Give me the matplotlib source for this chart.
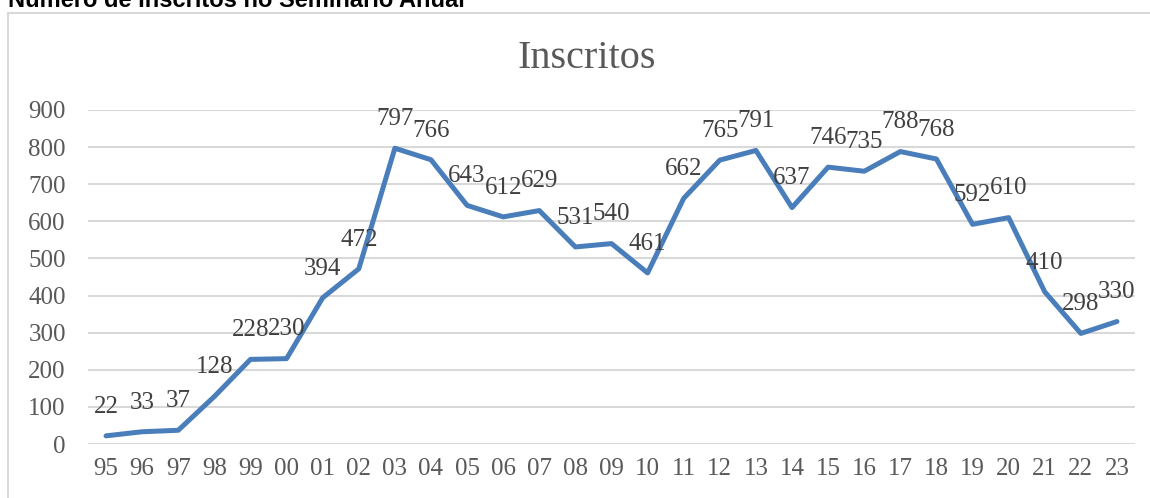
import matplotlib.pyplot as plt
from matplotlib.patches import Rectangle

years = ['95', '96', '97', '98', '99', '00', '01', '02', '03', '04', '05', '06', '07', '08', '09',
         '10', '11', '12', '13', '14', '15', '16', '17', '18', '19', '20', '21', '22', '23']
inscritos = [22, 33, 37, 128, 228, 230, 394, 472, 797, 766, 643, 612, 629, 531, 540,
             461, 662, 765, 791, 637, 746, 735, 788, 768, 592, 610, 410, 298, 330]
yticks = [0, 100, 200, 300, 400, 500, 600, 700, 800, 900]

W, H = 1150, 498
fig = plt.figure(figsize=(W / 100, H / 100), dpi=100)

# chart frame (cut off at right and bottom)
fig.patches.append(Rectangle((8 / W, -0.1), 1.1, 1 - 13 / H + 0.1, transform=fig.transFigure,
                             fill=False, edgecolor='#D9D9D9', linewidth=1.5))

# page heading, cut off at the top like the source
fig.text(8 / W, 1 - 7 / H, 'Número de Inscritos no Seminário Anual', family='Liberation Sans',
         fontweight='bold', fontsize=17, va='baseline', ha='left', color='black')
fig.text(587 / W, 1 - 58 / H, 'Inscritos', family='Liberation Serif', fontsize=29,
         color='#595959', ha='center', va='center')

ax = fig.add_axes([88 / W, 54 / H, (1135 - 88) / W, (444 - 110) / H])
x = list(range(len(years)))
ax.plot(x, inscritos, color='#4A7EBB', linewidth=3.6, solid_capstyle='round', zorder=3)

for xi, v in zip(x, inscritos):
    ax.annotate(str(v), (xi, v), xytext=(0, 21), textcoords='offset points', ha='center',
                va='center', family='Liberation Serif', fontsize=18, color='#404040', zorder=4)

ax.set_xlim(-0.5, len(years) - 0.5)
ax.set_ylim(0, 900)
ax.set_yticks(yticks)
ax.set_xticks(x)
ax.set_xticklabels(years)
for lab in ax.get_xticklabels() + ax.get_yticklabels():
    lab.set_family('Liberation Serif')
    lab.set_fontsize(18)
    lab.set_color('#595959')
ax.tick_params(axis='both', length=0)
ax.tick_params(axis='y', pad=16)
ax.tick_params(axis='x', pad=10)
ax.grid(axis='y', color='#D9D9D9', linewidth=1.5)
ax.set_axisbelow(True)
for s in ax.spines.values():
    s.set_visible(False)
ax.set_clip_on(False)

fig.savefig('out.png', dpi=100)
